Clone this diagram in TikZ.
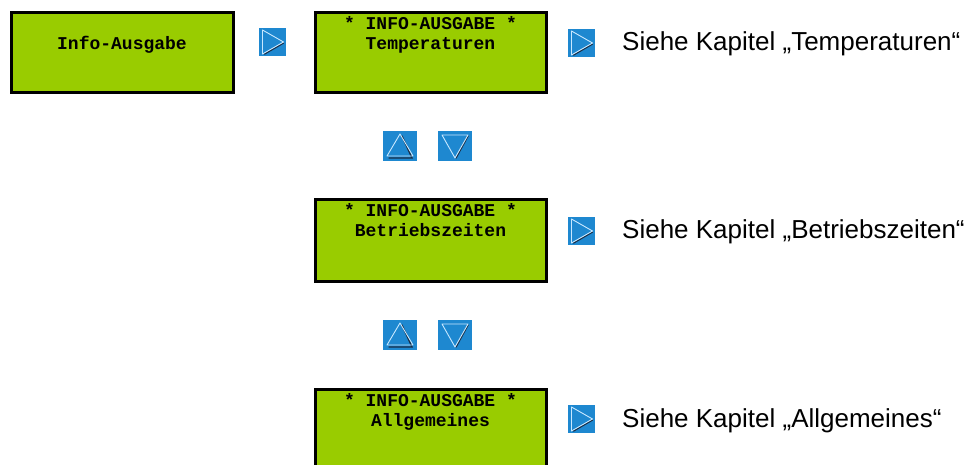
\documentclass[tikz,border=0pt]{standalone}
\usepackage{fontspec}
\setmainfont{Liberation Sans}
\newfontfamily\lcdfont{Liberation Mono}
\usetikzlibrary{positioning}
\definecolor{lcdgreen}{RGB}{153, 204, 0}
\definecolor{keyblue}{RGB}{30, 136, 208}
\definecolor{keylight}{RGB}{200, 232, 255}
\definecolor{keydark}{RGB}{25, 45, 70}

\tikzset{
  lcd/.style={draw=black, line width=3pt, fill=lcdgreen, inner sep=0pt, anchor=north west},
  lcdtext/.style={anchor=base, inner sep=0pt, font=\lcdfont\bfseries\fontsize{18}{21}\selectfont},
  hint/.style={anchor=base west, inner sep=0pt, font=\fontsize{26}{30}\selectfont},
  key/.style={fill=keyblue, inner sep=0pt},
  keyline/.style={draw=keylight, line width=0.9pt, line join=round},
  keyshade/.style={draw=keydark, line width=1.4pt, line cap=round}
}

\begin{document}
\begin{tikzpicture}[x=1pt, y=-1pt]
  \useasboundingbox (0,0) rectangle (970,465);
  \clip (0,0) rectangle (970,465);

  % displays
  \node[lcd, minimum width=222pt, minimum height=80pt] (lcd0) at (9.5,11.5) {};
  \node[lcd, minimum width=231pt, minimum height=80pt] (lcd1) at (313.5,11.5) {};
  \node[lcd, minimum width=231pt, minimum height=82pt] (lcd2) at (313.5,198.5) {};
  \node[lcd, minimum width=231pt, minimum height=90pt] (lcd3) at (313.5,387.5) {};

  \node[lcdtext] (lcd0b) at ([yshift=-38pt]lcd0.north) {Info-Ausgabe};
  \node[lcdtext] (lcd1a) at ([yshift=-18.5pt]lcd1.north) {* INFO-AUSGABE *};
  \node[lcdtext] (lcd1b) at ([yshift=-38.5pt]lcd1.north) {Temperaturen};
  \node[lcdtext] (lcd2a) at ([yshift=-18.5pt]lcd2.north) {* INFO-AUSGABE *};
  \node[lcdtext] (lcd2b) at ([yshift=-38.5pt]lcd2.north) {Betriebszeiten};
  \node[lcdtext] (lcd3a) at ([yshift=-18.5pt]lcd3.north) {* INFO-AUSGABE *};
  \node[lcdtext] (lcd3b) at ([yshift=-38.5pt]lcd3.north) {Allgemeines};

  % keys
  \node[key, minimum width=27pt, minimum height=28pt] (kr0) at (272.5,42) {};
  \node[key, minimum width=27pt, minimum height=28pt] (kr1) at (581.5,43) {};
  \node[key, minimum width=27pt, minimum height=28pt] (kr2) at (581.5,231) {};
  \node[key, minimum width=27pt, minimum height=28pt] (kr3) at (581.5,419) {};
  \node[key, minimum width=34pt, minimum height=30pt] (ku1) at (400,146) {};
  \node[key, minimum width=34pt, minimum height=30pt] (kd1) at (455,146) {};
  \node[key, minimum width=34pt, minimum height=30pt] (ku2) at (400,335) {};
  \node[key, minimum width=34pt, minimum height=30pt] (kd2) at (455,335) {};

  \foreach \k in {kr0, kr1, kr2, kr3} {
    \draw[keyshade] ([xshift=-8pt, yshift=-12pt]\k.center) -- ([xshift=11pt, yshift=-1pt]\k.center);
    \draw[keyline] ([xshift=-10pt, yshift=12pt]\k.center) -- ([xshift=11pt]\k.center)
      -- ([xshift=-10pt, yshift=-12pt]\k.center) -- cycle;
  }
  \foreach \k in {ku1, ku2} {
    \draw[keyshade] ([xshift=-11pt, yshift=-12pt]\k.center) -- ([xshift=12pt, yshift=-12pt]\k.center)
      -- ([xshift=2pt, yshift=10pt]\k.center);
    \draw[keyline] ([xshift=-13pt, yshift=-10pt]\k.center) -- ([yshift=12pt]\k.center)
      -- ([xshift=13pt, yshift=-10pt]\k.center) -- cycle;
  }
  \foreach \k in {kd1, kd2} {
    \draw[keyshade] ([xshift=13pt, yshift=10pt]\k.center) -- ([xshift=1pt, yshift=-12pt]\k.center);
    \draw[keyline] ([xshift=-13pt, yshift=11pt]\k.center) -- ([xshift=13pt, yshift=11pt]\k.center)
      -- ([yshift=-12pt]\k.center) -- cycle;
  }

  % hints
  \node[hint] (hint1) at (622,51) {Siehe Kapitel „Temperaturen“};
  \node[hint] (hint2) at (622,239) {Siehe Kapitel „Betriebszeiten“};
  \node[hint] (hint3) at (622,427) {Siehe Kapitel „Allgemeines“};
\end{tikzpicture}
\end{document}
